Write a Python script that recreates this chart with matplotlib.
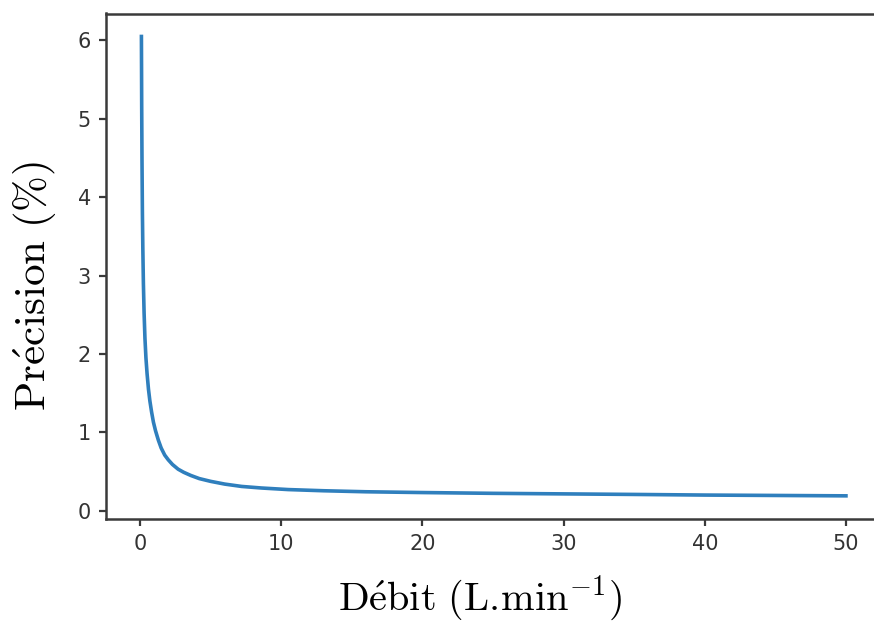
import matplotlib
matplotlib.use("Agg")
import matplotlib.pyplot as plt

# values
debit = [0.1, 0.12, 0.14, 0.17, 0.2, 0.24, 0.29, 0.35, 0.42, 0.5, 0.6, 0.7,
         0.82, 0.95, 1.1, 1.3, 1.5, 1.75, 2.0, 2.3, 2.7, 3.1, 3.6, 4.2,
         5.0, 6.0, 7.2, 8.6, 10.5, 13, 16, 20, 25, 30, 35, 40, 45, 50]
precision = [6.05, 5.15, 4.5, 3.8, 3.35, 2.9, 2.52, 2.2, 1.95, 1.75, 1.55, 1.4,
             1.26, 1.13, 1.02, 0.9, 0.8, 0.71, 0.65, 0.59, 0.53, 0.49, 0.45, 0.41,
             0.375, 0.34, 0.31, 0.29, 0.27, 0.255, 0.242, 0.232, 0.222, 0.215, 0.208, 0.2, 0.195, 0.19]

x_label = r"$\mathrm{D\acute{e}bit\ (L.\!min^{-1})}$"
y_label = r"$\mathrm{Pr\acute{e}cision\ (\%)}$"

plt.rcParams["mathtext.fontset"] = "cm"

fig = plt.figure(figsize=(8.74, 6.25), dpi=100)
ax = fig.add_axes([0.1215, 0.1699, 0.8867, 0.8085])

ax.plot(debit, precision, color="#2f7fbd", lw=2.6)

for s in ax.spines.values():
    s.set_color("#3a3a3a")
    s.set_linewidth(1.8)
ax.tick_params(length=5, width=1.6, color="#3a3a3a", pad=6,
               labelsize=15, labelcolor="#333333")
ax.set_yticks(range(0, 7))
ax.set_xticks(range(0, 51, 10))

ax.set_xlabel(x_label, fontsize=29, labelpad=14)
ax.set_ylabel(y_label, fontsize=31, labelpad=13)
ax.xaxis.label.set_x(0.482)
ax.yaxis.label.set_y(0.46)

fig.savefig("out.png", dpi=100)
